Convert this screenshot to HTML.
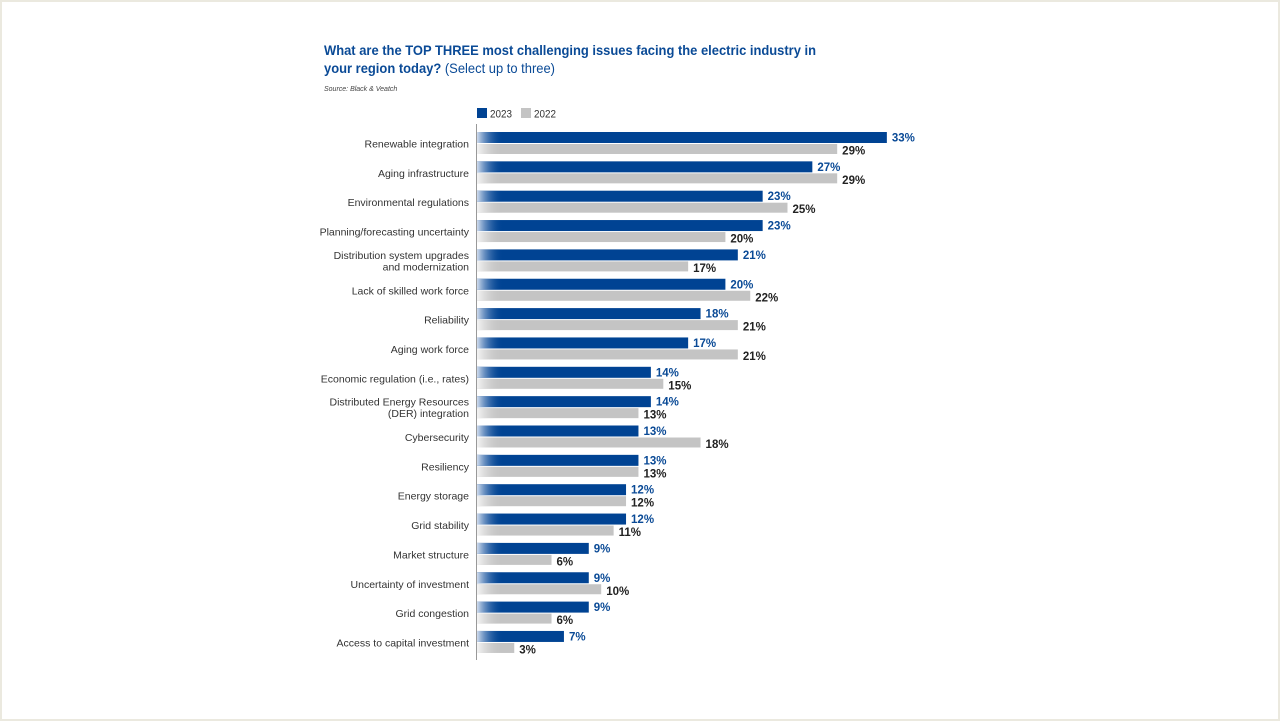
<!DOCTYPE html>
<html><head><meta charset="utf-8"><style>
body{margin:0;width:1280px;height:721px;background:#fff;font-family:"Liberation Sans",sans-serif;}
#frame{position:absolute;left:0;top:0;width:1276px;height:717px;border:2px solid #ebe9df;}
</style></head><body>
<div id="frame"></div>
<svg width="1280" height="721" style="position:absolute;left:0;top:0">
<defs>
<linearGradient id="fb" x1="0" x2="1"><stop offset="0" stop-color="#d0dcee"/><stop offset="1" stop-color="#004393" stop-opacity="0"/></linearGradient>
<linearGradient id="fg" x1="0" x2="1"><stop offset="0" stop-color="#f4f4f4"/><stop offset="1" stop-color="#c4c4c4" stop-opacity="0"/></linearGradient>
</defs>
<text x="324" y="55" font-size="14" font-weight="bold" fill="#0a4a96" textLength="492" lengthAdjust="spacingAndGlyphs">What are the TOP THREE most challenging issues facing the electric industry in</text>
<text x="324" y="73" font-size="14" fill="#0a4a96" textLength="231" lengthAdjust="spacingAndGlyphs"><tspan font-weight="bold">your region today?</tspan> (Select up to three)</text>
<text x="324" y="91" font-size="7" font-style="italic" fill="#444">Source: Black &amp; Veatch</text>
<rect x="477" y="108" width="10" height="10" fill="#004393"/>
<text x="490" y="117.5" font-size="11" fill="#333" textLength="22" lengthAdjust="spacingAndGlyphs">2023</text>
<rect x="521" y="108" width="10" height="10" fill="#c4c4c4"/>
<text x="534" y="117.5" font-size="11" fill="#333" textLength="22" lengthAdjust="spacingAndGlyphs">2022</text>
<line x1="476.5" y1="124" x2="476.5" y2="660" stroke="#999"/>
<g id="bars"></g>
</svg>
<script>
const categories=[["Renewable integration"],["Aging infrastructure"],["Environmental regulations"],["Planning/forecasting uncertainty"],["Distribution system upgrades","and modernization"],["Lack of skilled work force"],["Reliability"],["Aging work force"],["Economic regulation (i.e., rates)"],["Distributed Energy Resources","(DER) integration"],["Cybersecurity"],["Resiliency"],["Energy storage"],["Grid stability"],["Market structure"],["Uncertainty of investment"],["Grid congestion"],["Access to capital investment"]];
const values2023=[33,27,23,23,21,20,18,17,14,14,13,13,12,12,9,9,9,7];
const values2022=[29,29,25,20,17,22,21,21,15,13,18,13,12,11,6,10,6,3];
const NS="http://www.w3.org/2000/svg";
const g=document.getElementById('bars');
const x0=477, k=12.42;
function xs(v){return x0+v*k;}
function ys(i){return 132+i*29.35;}
function mk(t,a){const e=document.createElementNS(NS,t);for(const n in a)e.setAttribute(n,a[n]);g.appendChild(e);return e;}
categories.forEach((c,i)=>{
  const y=ys(i);
  const lab=mk('text',{x:469,'text-anchor':'end','font-size':10.5,fill:'#333'});
  
  
  if(c.length===1){lab.setAttribute('y',y+15.5);lab.textContent=c[0];}
  else{c.forEach((s,j)=>{const t=document.createElementNS(NS,'tspan');t.setAttribute('x',469);t.setAttribute('y',y+9.5+j*11.5);t.textContent=s;lab.appendChild(t);});}
  const b=mk('rect',{x:x0,y:y,width:xs(values2023[i])-x0,height:11,fill:'#004393'});
  
  
  const bf=mk('rect',{x:x0,y:y,width:26,height:11,fill:'url(#fb)'});
  
  
  const r=mk('rect',{x:x0,y:y+12,width:xs(values2022[i])-x0,height:10,fill:'#c4c4c4'});
  
  
  const rf=mk('rect',{x:x0,y:y+12,width:26,height:10,fill:'url(#fg)'});
  
  
  const t1=mk('text',{x:xs(values2023[i])+5,y:y+9.5,'font-size':11.5,'font-weight':'bold',fill:'#0a4a96'});
  t1.textContent=values2023[i]+'%';
  
  
  const t2=mk('text',{x:xs(values2022[i])+5,y:y+22.5,'font-size':11.5,'font-weight':'bold',fill:'#222'});
  t2.textContent=values2022[i]+'%';
  
  
});
</script>
</body></html>
